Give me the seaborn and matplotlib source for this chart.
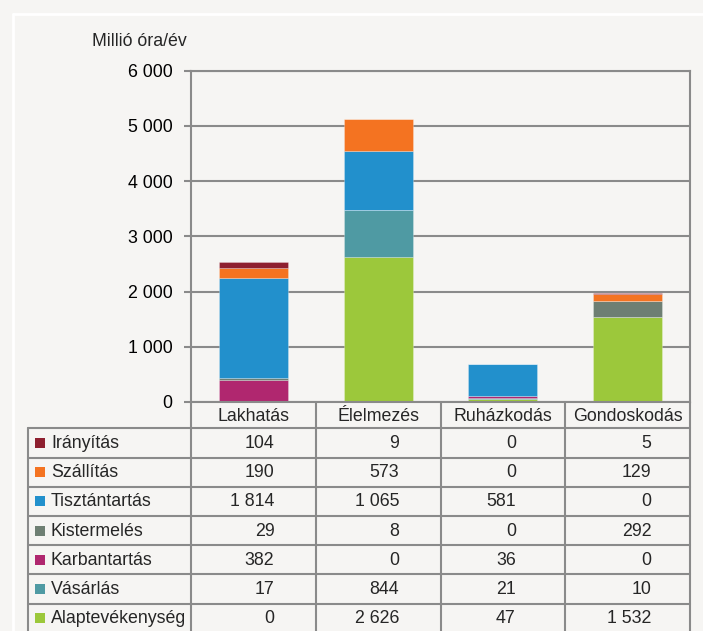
import matplotlib
matplotlib.use('Agg')
import matplotlib.pyplot as plt
from matplotlib.patches import Rectangle
import seaborn as sns
import numpy as np

# ---------------- data ----------------
categories = ['Lakhatás', 'Élelmezés', 'Ruházkodás', 'Gondoskodás']
series_names = ['Irányítás', 'Szállítás', 'Tisztántartás', 'Kistermelés',
                'Karbantartás', 'Vásárlás', 'Alaptevékenység']
iranyitas = [104, 9, 0, 5]
szallitas = [190, 573, 0, 129]
tisztantartas = [1814, 1065, 581, 0]
kistermeles = [29, 8, 0, 292]
karbantartas = [382, 0, 36, 0]
vasarlas = [17, 844, 21, 10]
alaptevekenyseg = [0, 2626, 47, 1532]
series_values = [iranyitas, szallitas, tisztantartas, kistermeles,
                 karbantartas, vasarlas, alaptevekenyseg]
colors = ['#8E1F2F', '#F47321', '#2290CC', '#6E7F73',
          '#B0276F', '#4F9AA3', '#9CC83B']
y_ticks = [0, 1000, 2000, 3000, 4000, 5000, 6000]
y_title = 'Millió óra/év'


def fmt(v):
    return f'{v:,}'.replace(',', ' ')


# ---------------- style ----------------
sns.set_theme(style='white')
plt.rcParams['font.family'] = ['Liberation Sans', 'DejaVu Sans']
FS = 12.8
BG = '#f6f5f3'
GRID = '#8a8a8a'
W, H = 703, 631

fig = plt.figure(figsize=(W / 100, H / 100), dpi=100, facecolor=BG)
L, R, T, B = 191, 690, 70.5, 402
ax = fig.add_axes([L / W, 1 - B / H, (R - L) / W, (B - T) / H])
ax.set_facecolor(BG)

bottom = np.zeros(len(categories))
for name, vals, col in reversed(list(zip(series_names, series_values, colors))):
    vals = np.array(vals, dtype=float)
    sns.barplot(x=categories, y=vals, order=categories, color=col,
                saturation=1, bottom=bottom, width=0.555, errorbar=None,
                edgecolor=(1, 1, 1, 0.35), linewidth=0.5, ax=ax)
    bottom += vals

ax.set_xlim(-0.5, len(categories) - 0.5)
ax.set_ylim(0, 6000)
ax.set_yticks(y_ticks)
ax.set_yticklabels([fmt(v) for v in y_ticks], fontsize=FS)
ax.set_xticks([])
ax.set_xlabel('')
ax.set_ylabel('')
ax.yaxis.grid(True, color=GRID, lw=1.5)
ax.set_axisbelow(True)
for s in ax.spines.values():
    s.set_visible(True)
    s.set_color(GRID)
    s.set_linewidth(1.5)
ax.tick_params(axis='y', length=5, width=1.5, color=GRID, pad=8.5,
               labelcolor='black', left=True)

# ---------------- overlay (table, title, frame) ----------------
ov = fig.add_axes([0, 0, 1, 1])
ov.set_xlim(0, W)
ov.set_ylim(H, 0)
ov.axis('off')
ov.patch.set_alpha(0)

# frame
ov.plot([13, 13], [14, H + 5], color='white', lw=2)
ov.plot([13, W + 5], [14, 14], color='white', lw=2)

ov.text(92, 41, y_title, fontsize=FS, ha='left', va='center')

col_edges = [ax.transData.transform((i - 0.5, 0))[0] for i in range(len(categories) + 1)]
col_centers = [(col_edges[i] + col_edges[i + 1]) / 2 for i in range(len(categories))]

row_top = 428.3
row_h = 29.2
tab_left = 28

for x in col_edges:
    ov.plot([x, x], [B, H + 3], color=GRID, lw=1.5, solid_capstyle='butt')
ov.plot([tab_left, tab_left], [row_top, H + 3], color=GRID, lw=1.5)
for k in range(len(series_names) + 1):
    y = row_top + k * row_h
    ov.plot([tab_left, col_edges[-1]], [y, y], color=GRID, lw=1.5)

for c, xc in zip(categories, col_centers):
    ov.text(xc, (B + row_top) / 2 + 1, c, fontsize=FS, ha='center', va='center')

val_offsets = [21, 21, 13, 24]
for i, (name, vals, col) in enumerate(zip(series_names, series_values, colors)):
    yc = row_top + (i + 0.5) * row_h
    ov.add_patch(Rectangle((35, yc - 5), 10, 10, facecolor=col, edgecolor='none'))
    ov.text(51, yc + 0.5, name, fontsize=FS, ha='left', va='center')
    for j, v in enumerate(vals):
        ov.text(col_centers[j] + val_offsets[j], yc + 0.5, fmt(v), fontsize=FS,
                ha='right', va='center')

fig.savefig('out.png', dpi=100, facecolor=BG)
